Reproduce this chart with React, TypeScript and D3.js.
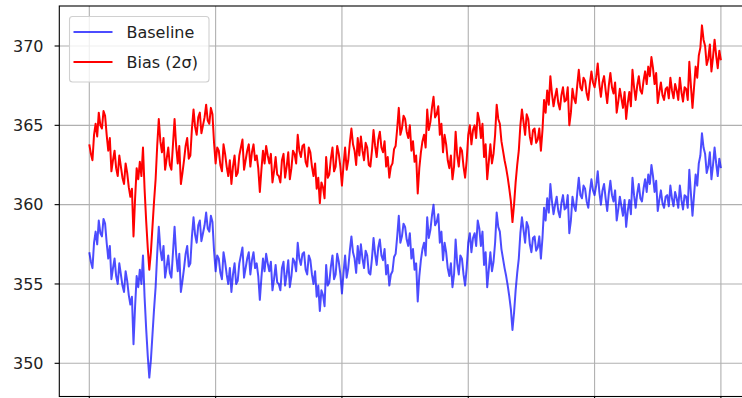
import { useEffect, useRef } from 'react'
import * as d3 from 'd3'

// samples every 2.5 steps over 0..1000
const baseline = [
  357.0, 356.4, 356.0, 357.6, 358.3, 357.5, 359.0, 358.2, 358.0, 359.1,
  358.8, 357.6, 356.6, 357.4, 355.3, 356.0, 356.6, 355.5, 355.0, 356.3,
  355.6, 354.9, 354.5, 355.8, 355.2, 354.3, 353.7, 354.2, 351.2, 353.6,
  355.5, 354.8, 355.9, 355.0, 356.8, 354.2, 352.2, 350.5, 349.1, 350.2,
  351.8, 353.4, 354.8, 356.9, 358.6, 357.2, 356.5, 357.4, 355.4, 356.1,
  356.8, 355.7, 355.4, 357.0, 358.6, 356.9, 355.8, 356.9, 354.5, 355.2,
  356.0, 356.9, 357.4, 356.1, 356.3, 358.0, 359.2, 358.1, 357.6, 358.7,
  359.0, 357.7, 358.2, 358.7, 359.5, 358.5, 358.3, 359.3, 358.9, 357.1,
  355.8, 356.8, 356.6, 355.7, 355.3, 357.0, 356.4, 355.6, 355.0, 356.0,
  354.5, 355.6, 356.3, 355.0, 355.2, 356.3, 356.8, 357.3, 355.4, 356.0,
  356.6, 357.0, 355.6, 356.5, 357.0, 356.0, 356.3, 355.5, 354.0, 355.4,
  356.6, 355.8, 356.9, 356.3, 355.8, 356.4, 354.6, 355.3, 356.2, 355.1,
  355.0, 354.6, 356.0, 356.4, 354.9, 355.6, 356.5, 354.8, 355.5, 356.6,
  356.4, 355.8, 357.6, 356.6, 356.2, 356.9, 357.0, 355.9, 355.6, 356.8,
  356.5, 355.6, 355.0, 355.8, 354.2, 354.9, 353.3, 354.6, 354.3, 353.6,
  356.2, 354.9, 355.1, 356.1, 356.8, 355.3, 355.6, 356.9, 356.4, 355.6,
  354.4, 355.7, 356.8, 355.4, 356.0, 357.1, 358.0, 357.0, 356.6, 355.7,
  357.4, 356.3, 357.5, 356.6, 356.0, 357.1, 356.8, 355.7, 355.6, 356.6,
  357.9, 356.9, 356.2, 357.3, 357.8, 356.8, 356.5, 357.2, 355.6, 356.2,
  354.9, 355.6, 355.8, 356.7, 356.9, 358.0, 359.3, 357.6, 358.0, 358.8,
  358.6, 357.8, 357.4, 358.2, 356.6, 357.2, 355.9, 356.3, 353.9, 355.5,
  356.5, 357.2, 357.6, 356.8, 359.2, 357.9, 358.4, 359.3, 360.0, 358.7,
  358.9, 359.4, 357.6, 358.3, 356.5, 357.6, 357.0, 356.0, 355.5, 356.3,
  354.8, 355.6, 357.8, 356.3, 355.6, 356.8, 356.6, 355.6, 354.9, 356.0,
  357.6, 358.2, 357.0, 357.9, 358.2, 357.4, 359.0, 358.5, 357.4, 358.3,
  356.2, 357.0, 354.8, 355.9, 357.0, 355.8, 356.4, 357.6, 359.5, 358.6,
  358.3, 357.2, 356.6, 356.0, 355.5, 354.9, 354.2, 353.4, 352.1, 353.2,
  354.6, 355.7, 356.6, 358.2, 359.2, 358.4, 357.6, 358.9, 358.6, 357.5,
  357.0, 357.9, 358.0, 357.1, 357.3, 358.0, 356.6, 357.9, 359.8, 359.0,
  360.4, 359.5, 361.3, 360.2, 359.4, 360.0, 360.5, 359.6, 359.2, 360.1,
  360.6, 359.7, 359.8, 360.6, 358.2, 359.0, 360.5, 359.9, 359.6, 360.7,
  361.7, 360.6, 360.4, 361.2, 361.0, 360.2, 359.8, 360.8, 361.6, 360.9,
  360.6, 361.2, 362.1, 360.8, 360.0, 360.9, 361.3, 360.4, 359.6, 360.7,
  361.5, 360.6, 360.2, 360.9, 359.0, 359.7, 360.5, 359.9, 359.3, 360.3,
  358.6, 359.6, 360.3, 359.4, 361.7, 360.6, 359.8, 360.7, 361.3, 360.4,
  360.2, 361.0, 361.6, 360.8, 361.9, 361.3, 362.5, 361.8, 360.8, 361.5,
  359.6, 360.3, 360.9, 360.1, 359.8, 360.5, 360.6, 359.9, 361.2, 360.4,
  359.9, 360.8, 360.4, 359.8, 361.2, 360.3, 359.7, 360.6, 360.5, 359.8,
  362.2, 360.7, 359.3, 360.6, 361.9, 361.2, 362.6, 363.1, 364.5, 363.6,
  363.2, 362.0, 362.4, 363.3, 361.6, 362.5, 363.6, 362.6, 361.8, 362.9,
  362.3,
]

const bias = [
  363.8, 363.2, 362.8, 364.4, 365.1, 364.3, 365.8, 365.0, 364.8, 365.9,
  365.6, 364.4, 363.4, 364.2, 362.1, 362.8, 363.4, 362.3, 361.8, 363.1,
  362.4, 361.7, 361.3, 362.6, 362.0, 361.1, 360.5, 361.0, 358.0, 360.4,
  362.3, 361.6, 362.7, 361.8, 363.6, 361.0, 359.0, 357.3, 355.9, 357.0,
  358.6, 360.2, 361.6, 363.7, 365.4, 364.0, 363.3, 364.2, 362.2, 362.9,
  363.6, 362.5, 362.2, 363.8, 365.4, 363.7, 362.6, 363.7, 361.3, 362.0,
  362.8, 363.7, 364.2, 362.9, 363.1, 364.8, 366.0, 364.9, 364.4, 365.5,
  365.8, 364.5, 365.0, 365.5, 366.3, 365.3, 365.1, 366.1, 365.7, 363.9,
  362.6, 363.6, 363.4, 362.5, 362.1, 363.8, 363.2, 362.4, 361.8, 362.8,
  361.3, 362.4, 363.1, 361.8, 362.0, 363.1, 363.6, 364.1, 362.2, 362.8,
  363.4, 363.8, 362.4, 363.3, 363.8, 362.8, 363.1, 362.3, 360.8, 362.2,
  363.4, 362.6, 363.7, 363.1, 362.6, 363.2, 361.4, 362.1, 363.0, 361.9,
  361.8, 361.4, 362.8, 363.2, 361.7, 362.4, 363.3, 361.6, 362.3, 363.4,
  363.2, 362.6, 364.4, 363.4, 363.0, 363.7, 363.8, 362.7, 362.4, 363.6,
  363.3, 362.4, 361.8, 362.6, 361.0, 361.7, 360.1, 361.4, 361.1, 360.4,
  363.0, 361.7, 361.9, 362.9, 363.6, 362.1, 362.4, 363.7, 363.2, 362.4,
  361.2, 362.5, 363.6, 362.2, 362.8, 363.9, 364.8, 363.8, 363.4, 362.5,
  364.2, 363.1, 364.3, 363.4, 362.8, 363.9, 363.6, 362.5, 362.4, 363.4,
  364.7, 363.7, 363.0, 364.1, 364.6, 363.6, 363.3, 364.0, 362.4, 363.0,
  361.7, 362.4, 362.6, 363.5, 363.7, 364.8, 366.1, 364.4, 364.8, 365.6,
  365.4, 364.6, 364.2, 365.0, 363.4, 364.0, 362.7, 363.1, 360.7, 362.3,
  363.3, 364.0, 364.4, 363.6, 366.0, 364.7, 365.2, 366.1, 366.8, 365.5,
  365.7, 366.2, 364.4, 365.1, 363.3, 364.4, 363.8, 362.8, 362.3, 363.1,
  361.6, 362.4, 364.6, 363.1, 362.4, 363.6, 363.4, 362.4, 361.7, 362.8,
  364.4, 365.0, 363.8, 364.7, 365.0, 364.2, 365.8, 365.3, 364.2, 365.1,
  363.0, 363.8, 361.6, 362.7, 363.8, 362.6, 363.2, 364.4, 366.3, 365.4,
  365.1, 364.0, 363.4, 362.8, 362.3, 361.7, 361.0, 360.2, 358.9, 360.0,
  361.4, 362.5, 363.4, 365.0, 366.0, 365.2, 364.4, 365.7, 365.4, 364.3,
  363.8, 364.7, 364.8, 363.9, 364.1, 364.8, 363.4, 364.7, 366.6, 365.8,
  367.2, 366.3, 368.1, 367.0, 366.2, 366.8, 367.3, 366.4, 366.0, 366.9,
  367.4, 366.5, 366.6, 367.4, 365.0, 365.8, 367.3, 366.7, 366.4, 367.5,
  368.5, 367.4, 367.2, 368.0, 367.8, 367.0, 366.6, 367.6, 368.4, 367.7,
  367.4, 368.0, 368.9, 367.6, 366.8, 367.7, 368.1, 367.2, 366.4, 367.5,
  368.3, 367.4, 367.0, 367.7, 365.8, 366.5, 367.3, 366.7, 366.1, 367.1,
  365.4, 366.4, 367.1, 366.2, 368.5, 367.4, 366.6, 367.5, 368.1, 367.2,
  367.0, 367.8, 368.4, 367.6, 368.7, 368.1, 369.3, 368.6, 367.6, 368.3,
  366.4, 367.1, 367.7, 366.9, 366.6, 367.3, 367.4, 366.7, 368.0, 367.2,
  366.7, 367.6, 367.2, 366.6, 368.0, 367.1, 366.5, 367.4, 367.3, 366.6,
  369.0, 367.5, 366.1, 367.4, 368.7, 368.0, 369.4, 369.9, 371.3, 370.4,
  370.0, 368.8, 369.2, 370.1, 368.4, 369.3, 370.4, 369.4, 368.6, 369.7,
  369.1,
]

const xTicks = [0, 200, 400, 600, 800, 1000]
const yTicks = [350, 355, 360, 365, 370]
const seriesNames = ['Baseline', 'Bias (2σ)']

const W = 742
const H = 398
const FONT = '"DejaVu Sans", sans-serif'

export default function App() {
  const ref = useRef<SVGSVGElement>(null)

  useEffect(() => {
    if (!ref.current) return
    const svg = d3.select(ref.current)
    svg.selectAll('*').remove()

    // plot frame (right edge falls outside the picture)
    const frame = { left: 59.3, top: 6, right: 760, bottom: 396.5 }

    const x = d3.scaleLinear().domain([0, 1000]).range([89.3, 720.9])
    const y = d3.scaleLinear().domain([350, 370]).range([363.3, 46])
    const step = 1000 / (baseline.length - 1)

    svg.append('rect').attr('width', W).attr('height', H).attr('fill', '#fff')

    const grid = svg.append('g').attr('stroke', '#b0b0b0').attr('stroke-width', 1.1)
    xTicks.forEach((t) => {
      grid.append('line')
        .attr('x1', x(t)).attr('x2', x(t))
        .attr('y1', frame.top).attr('y2', frame.bottom)
    })
    yTicks.forEach((t) => {
      grid.append('line')
        .attr('x1', frame.left).attr('x2', frame.right)
        .attr('y1', y(t)).attr('y2', y(t))
    })

    const line = d3.line<number>()
      .x((_, i) => x(i * step))
      .y((d) => y(d))

    svg.append('path')
      .datum(baseline)
      .attr('d', line)
      .attr('fill', 'none')
      .attr('stroke', 'blue')
      .attr('stroke-opacity', 0.7)
      .attr('stroke-width', 2)
      .attr('stroke-linejoin', 'round')

    svg.append('path')
      .datum(bias)
      .attr('d', line)
      .attr('fill', 'none')
      .attr('stroke', 'red')
      .attr('stroke-width', 2)
      .attr('stroke-linejoin', 'round')

    // spines
    svg.append('rect')
      .attr('x', frame.left).attr('y', frame.top)
      .attr('width', frame.right - frame.left)
      .attr('height', frame.bottom - frame.top)
      .attr('fill', 'none')
      .attr('stroke', '#000')
      .attr('stroke-width', 1.1)

    const axis = svg.append('g').attr('stroke', '#000').attr('stroke-width', 1.1)
    yTicks.forEach((t) => {
      axis.append('line')
        .attr('x1', frame.left - 4.7).attr('x2', frame.left)
        .attr('y1', y(t)).attr('y2', y(t))
    })
    xTicks.forEach((t) => {
      axis.append('line')
        .attr('x1', x(t)).attr('x2', x(t))
        .attr('y1', frame.bottom).attr('y2', frame.bottom + 4.7)
    })

    svg.append('g')
      .selectAll('text')
      .data(yTicks)
      .join('text')
      .attr('x', 43.5)
      .attr('y', (d) => y(d))
      .attr('dy', '0.36em')
      .attr('text-anchor', 'end')
      .attr('font-family', FONT)
      .attr('font-size', 16)
      .attr('fill', '#222')
      .text((d) => d)

    // legend
    const lg = svg.append('g')
    lg.append('rect')
      .attr('x', 69.5).attr('y', 16.5)
      .attr('width', 139.5).attr('height', 65.5)
      .attr('rx', 3)
      .attr('fill', '#fff').attr('fill-opacity', 0.8)
      .attr('stroke', '#d0d0d0').attr('stroke-width', 1.1)
    const legendColors = [{ c: 'blue', o: 0.7 }, { c: 'red', o: 1 }]
    seriesNames.forEach((name, i) => {
      const ly = 32 + i * 30
      lg.append('line')
        .attr('x1', 73.5).attr('x2', 112.5)
        .attr('y1', ly).attr('y2', ly)
        .attr('stroke', legendColors[i].c)
        .attr('stroke-opacity', legendColors[i].o)
        .attr('stroke-width', 2)
      lg.append('text')
        .attr('x', 126.5).attr('y', ly)
        .attr('dy', '0.36em')
        .attr('font-family', FONT)
        .attr('font-size', 16)
        .attr('fill', '#222')
        .text(name)
    })
  }, [])

  return (
    <svg
      ref={ref}
      width={W}
      height={H}
      style={{ position: 'absolute', left: 0, top: 0, display: 'block' }}
    />
  )
}
